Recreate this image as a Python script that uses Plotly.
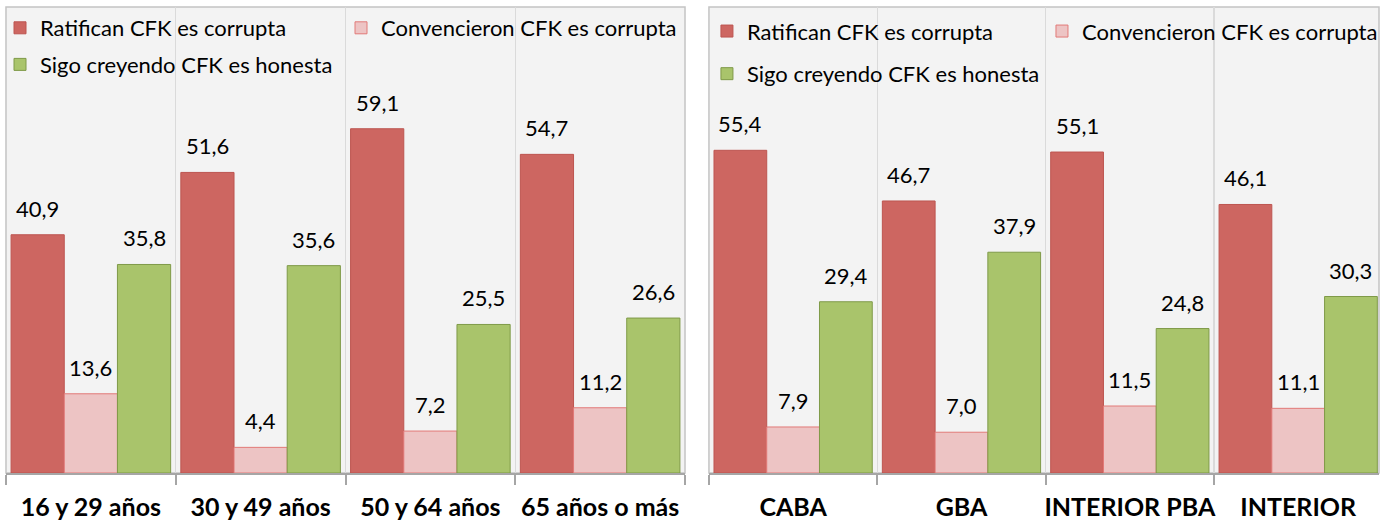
import plotly.graph_objects as go

# ---- data ----
age_groups = ["16 y 29 años", "30 y 49 años", "50 y 64 años", "65 años o más"]
ratifican_age = [40.9, 51.6, 59.1, 54.7]
convencieron_age = [13.6, 4.4, 7.2, 11.2]
sigo_age = [35.8, 35.6, 25.5, 26.6]

regions = ["CABA", "GBA", "INTERIOR PBA", "INTERIOR"]
ratifican_reg = [55.4, 46.7, 55.1, 46.1]
convencieron_reg = [7.9, 7.0, 11.5, 11.1]
sigo_reg = [29.4, 37.9, 24.8, 30.3]

series_names = ["Ratifican CFK es corrupta", "Convencieron CFK es corrupta",
                "Sigo creyendo CFK es honesta"]
fill_colors = ["#cd6661", "#edc4c4", "#a9c46b"]
line_colors = ["#bd5550", "#e27a78", "#7f9a48"]

FONT = "Lato"
BARGAP = 0.06
W = 1383

fig = go.Figure()

def fmt(v):
    return f"{v:.1f}".replace(".", ",")

panels = [
    (age_groups, [ratifican_age, convencieron_age, sigo_age], "x", "y", ["legend", "legend2", "legend"]),
    (regions, [ratifican_reg, convencieron_reg, sigo_reg], "x2", "y2", ["legend3", "legend4", "legend3"]),
]

annotations = []
bar_w = (1 - BARGAP) / 3
for cats, series, xa, ya, legs in panels:
    for i, vals in enumerate(series):
        fig.add_trace(go.Bar(
            x=cats, y=vals, name=series_names[i],
            marker=dict(color=fill_colors[i], line=dict(color=line_colors[i], width=1)),
            xaxis=xa, yaxis=ya, legend=legs[i],
            legendgroup=f"{xa}{i}", legendrank=[1, 1, 2][i],
            hoverinfo="skip",
        ))
        for j, v in enumerate(vals):
            annotations.append(dict(
                x=j + (i - 1) * bar_w, y=v, xref=xa, yref=ya,
                text=fmt(v), showarrow=False, yanchor="bottom", yshift=11,
                font=dict(family=FONT, size=22, color="#000000"),
            ))

shapes = []
for xa, ya in [("x", "y"), ("x2", "y2")]:
    shapes.append(dict(type="rect", xref=f"{xa} domain", yref=f"{ya} domain",
                       x0=0, x1=1, y0=0, y1=1, layer="below",
                       line=dict(color="#c4c4c4", width=1.5)))

axis_common = dict(
    type="category", tickson="boundaries", ticks="outside", ticklen=10,
    tickwidth=2, tickcolor="#a6a6a6", showline=True, linecolor="#a6a6a6",
    linewidth=2, showgrid=True, gridcolor="#dadada", gridwidth=1.5,
    tickfont=dict(family=FONT, size=25, color="#000000", weight="bold"),
    tickangle=0, automargin=False,
    ticklabelstandoff=11, fixedrange=True,
)
yaxis_common = dict(range=[0, 80], showgrid=False, showticklabels=False,
                    zeroline=False, showline=False, fixedrange=True, automargin=False)

legend_common = dict(bgcolor="rgba(0,0,0,0)", font=dict(family=FONT, size=22, color="#000000"),
                     orientation="v", xanchor="left", yanchor="top",
                     itemclick=False, itemdoubleclick=False)

fig.update_layout(
    width=W, height=523,
    margin=dict(l=0, r=0, t=7, b=50),
    paper_bgcolor="#ffffff", plot_bgcolor="#f3f3f3",
    barmode="group", bargap=BARGAP, bargroupgap=0,
    xaxis=dict(domain=[6 / W, 687 / W], range=[-0.5, 3.5], **axis_common),
    xaxis2=dict(domain=[711 / W, 1.0], range=[-0.5, 3.48], anchor="y2", **axis_common),
    yaxis=dict(domain=[0, 1], **yaxis_common),
    yaxis2=dict(domain=[0, 1], anchor="x2", **yaxis_common),
    legend=dict(x=0 / W, y=1.0, tracegroupgap=5, **legend_common),
    legend2=dict(x=342 / W, y=1.0, tracegroupgap=5, **legend_common),
    legend3=dict(x=709 / W, y=0.993, tracegroupgap=11, **legend_common),
    legend4=dict(x=1045 / W, y=0.993, tracegroupgap=11, **legend_common),
    annotations=annotations,
    shapes=shapes,
    showlegend=True,
)

fig.write_html(
    "out.html",
    config={"displayModeBar": False, "staticPlot": True},
    post_script="document.body.style.margin='0';document.body.style.overflow='hidden';",
)
